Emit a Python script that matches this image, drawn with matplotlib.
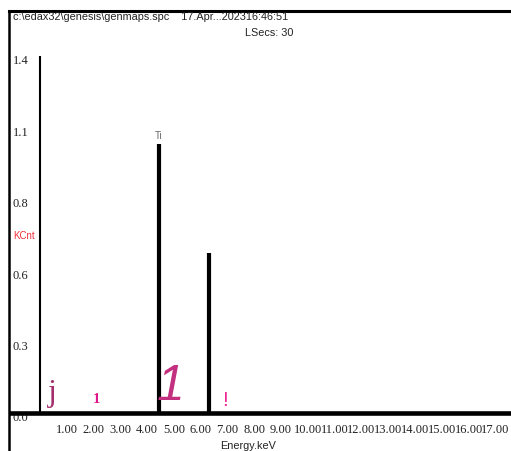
import matplotlib
matplotlib.use("Agg")
import matplotlib.pyplot as plt
import matplotlib.transforms as mtransforms

plt.rcParams["savefig.bbox"] = "standard"

# ------------------- data -------------------
peak_kev = [0.0, 4.45, 6.30]
peak_kcnt = [1.40, 1.055, 0.627]
peak_lw = [1.5, 3.0, 3.0]

ytick_vals = [0.0, 0.28, 0.56, 0.84, 1.12, 1.40]
xtick_vals = list(range(1, 19))

marker_kev = [0.48, 2.12, 4.87, 6.91]
marker_y = [0.051, 0.043, 0.055, 0.031]
marker_glyph = ["j", "1", "1", "!"]
marker_color = ["#a3306c", "#e0148a", "#c3307f", "#f02694"]

header = "c:\\edax32\\genesis\\genmaps.spc    17.Apr...202316:46:51"
lsecs = "LSecs: 30"

W, H = 511, 452
fig = plt.figure(figsize=(W / 100, H / 100), dpi=100)
ax = fig.add_axes([9 / W, 0, (W - 9) / W, (H - 11.5) / H])

# frame: only left and top
ax.spines["right"].set_visible(False)
ax.spines["left"].set_linewidth(1.8)
ax.spines["top"].set_linewidth(2.2)
ax.spines["bottom"].set_position(("data", 0))
ax.spines["bottom"].set_visible(False)

# peaks
ax.vlines(peak_kev, 0, peak_kcnt, colors="black", linewidths=peak_lw, zorder=3)
ax.axhline(0, color="black", lw=3.3, zorder=6)

# ticks (set before limits: set_ticks can widen the view)
ax.set_xticks(xtick_vals)
ax.set_xticklabels([f"{v:.2f}" for v in xtick_vals],
                   fontfamily="Liberation Serif", fontsize=9, color="#222222")
ax.tick_params(axis="x", length=0, pad=7.5)
ax.set_yticks(ytick_vals)
ax.set_yticklabels([f"{v:.1f}" for v in ytick_vals],
                   fontfamily="Liberation Serif", fontsize=9, color="#222222")
ax.tick_params(axis="y", length=0, pad=-2.8)

ax.set_xlim(-1.15, 17.58)
ax.set_ylim(-0.149, 1.578)

shift = mtransforms.ScaledTranslation(0, -3 / 100, fig.dpi_scale_trans)
for t in ax.get_yticklabels():
    t.set_ha("left")
    t.set_transform(t.get_transform() + shift)
for t in ax.get_xticklabels():
    t.set_clip_box(ax.bbox)
    t.set_clip_on(True)

# peak label
ax.annotate("Ti", (peak_kev[1], peak_kcnt[1]), xytext=(0, 3), textcoords="offset points",
            ha="center", va="bottom", fontsize=7, color="#666666", family="Liberation Sans")

# element markers
styles = [
    dict(family="Liberation Serif", fontsize=23),
    dict(family="Liberation Serif", fontsize=10.5, fontweight="bold"),
    dict(family="Liberation Sans", fontsize=36, style="italic"),
    dict(family="Liberation Sans", fontsize=15),
]
for x, y, g, c, st in zip(marker_kev, marker_y, marker_glyph, marker_color, styles):
    ax.text(x, y, g, color=c, ha="center", va="baseline", zorder=4, **st)

# header / labels
fig.text(13 / W, 1 - 17.5 / H, header, fontsize=7.8, family="Liberation Sans",
         ha="left", va="center", color="#222222")
fig.text(245 / W, 1 - 32.5 / H, lsecs, fontsize=7.8, family="Liberation Sans",
         ha="left", va="center", color="#222222")
fig.text(13 / W, 1 - 236 / H, "KCnt", fontsize=7, family="Liberation Sans",
         ha="left", va="center", color="#f0303c")
fig.text(248 / W, 1 - 446 / H, "Energy.keV", fontsize=7.8, family="Liberation Sans",
         ha="center", va="center", color="#222222")

fig.savefig("out.png", dpi=100)
